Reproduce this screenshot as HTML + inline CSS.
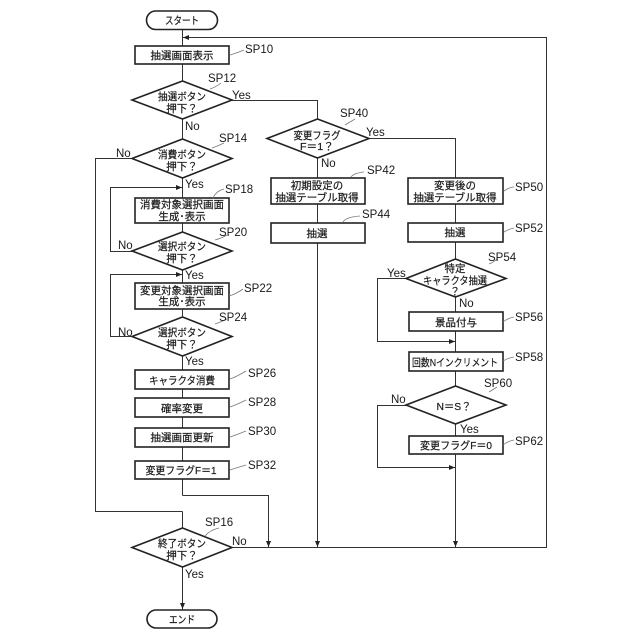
<!DOCTYPE html>
<html><head><meta charset="utf-8"><style>
html,body{margin:0;padding:0;background:#fff}
svg{display:block}
text{font-family:"Liberation Sans","Noto Sans CJK JP",sans-serif;fill:#1a1a1a}
.j{font-size:10.5px;text-anchor:middle;stroke:#1a1a1a;stroke-width:.2}
.s{font-size:11.5px}
.n{fill:none;stroke:#333;stroke-width:1}
.b{fill:#fff;stroke:#222;stroke-width:1.6}
.c{fill:none;stroke:#777;stroke-width:.8}
.a{fill:#222;stroke:none}
</style></head><body>
<svg width="640" height="640" viewBox="0 0 640 640">
<!-- connectors -->
<path class="n" d="M182.500 29V495.500M182.500 511.500V528M182.500 567V610"/>
<path class="n" d="M232 100.500H317.500V119M317.500 158V547"/>
<path class="n" d="M369 138.500H455.500V547"/>
<path class="n" d="M232 547.500H546.500V37.500H182"/>
<path class="n" d="M132 158.500H95.500V511.500H182.500"/>
<path class="n" d="M132 251.500H110.500V187.500H182"/>
<path class="n" d="M132 336.500H110.500V274.500H182"/>
<path class="n" d="M182.500 495.500H268.500V547"/>
<path class="n" d="M406 278.500H377.500V341.500H455"/>
<path class="n" d="M406 405.500H377.500V467.500H455"/>
<!-- arrowheads -->
<path class="a" d="M183 37.500l6-2.500v5z"/>
<path class="a" d="M182 187.500l-6-2.500v5z"/>
<path class="a" d="M182 274.500l-6-2.500v5z"/>
<path class="a" d="M455 341.500l-6-2.500v5z"/>
<path class="a" d="M455 467.500l-6-2.500v5z"/>
<path class="a" d="M268.500 547l-2.500-6h5z"/>
<path class="a" d="M317.500 547l-2.500-6h5z"/>
<path class="a" d="M455.500 547l-2.500-6h5z"/>
<path class="a" d="M182.500 609l-2.500-6h5z"/>
<!-- terminators -->
<rect class="b" x="146.500" y="11" width="71" height="18.500" rx="9.200"/>
<rect class="b" x="147" y="610" width="70" height="18" rx="9"/>
<!-- boxes -->
<rect class="b" x="135" y="46" width="94" height="18"/>
<rect class="b" x="135" y="198" width="94" height="25"/>
<rect class="b" x="135" y="283" width="94" height="26"/>
<rect class="b" x="135" y="370" width="94" height="19"/>
<rect class="b" x="135" y="398" width="94" height="19"/>
<rect class="b" x="135" y="428" width="94" height="19"/>
<rect class="b" x="135" y="461" width="94" height="18"/>
<rect class="b" x="271" y="178" width="94" height="26"/>
<rect class="b" x="271" y="223" width="94" height="20"/>
<rect class="b" x="408" y="178" width="95" height="26"/>
<rect class="b" x="408" y="223" width="95" height="19"/>
<rect class="b" x="409" y="312" width="94" height="19"/>
<rect class="b" x="409" y="352" width="94" height="19"/>
<rect class="b" x="409" y="436" width="94" height="18"/>
<!-- diamonds -->
<path class="b" d="M132 100L182.500 81L232 100L182.500 119Z"/>
<path class="b" d="M132 158.500L182.500 139L232 158.500L182.500 178Z"/>
<path class="b" d="M132 251L182.500 232L232 251L182.500 270Z"/>
<path class="b" d="M132 336.500L182.500 317L232 336.500L182.500 356Z"/>
<path class="b" d="M132 547.500L182.500 528L232 547.500L182.500 567Z"/>
<path class="b" d="M267 138.500L317.500 119L369 138.500L317.500 158Z"/>
<path class="b" d="M406 278.500L455.500 259L506 278.500L455.500 297Z"/>
<path class="b" d="M406 405L455.500 386L506 405L455.500 424Z"/>
<!-- callout lines -->
<path class="c" d="M230 55Q237 53 244 50M210 89Q216 87 221 83M212 148Q218 146 224 143M213 198Q216 191 224 189M215 240Q222 238 227 235M229 296Q236 294 243 289M215 324Q221 322 227 319M230 379Q236 377 246 371M230 407Q236 405 246 400M230 437Q236 435 246 431M230 470Q236 468 246 465M205 536Q210 530 219 528M345 125Q350 122 355 119M351 177Q354 173 364 172M343 222Q346 217 360 216M504 191Q510 187 514 187M504 232Q509 229 514 228M489 264Q494 262 497 259M503 322Q508 318 514 317M503 361Q508 358 514 357M489 392Q494 389 497 387M503 445Q508 441 514 440"/>
<!-- node text -->
<text class="j" x="182" y="24" textLength="34" lengthAdjust="spacingAndGlyphs">スタート</text>
<text class="j" x="182" y="59">抽選画面表示</text>
<text class="j" x="182" y="100" textLength="48" lengthAdjust="spacingAndGlyphs">抽選ボタン</text><text class="j" x="182" y="112">押下？</text>
<text class="j" x="182" y="158" textLength="48" lengthAdjust="spacingAndGlyphs">消費ボタン</text><text class="j" x="182" y="170">押下？</text>
<text class="j" x="182" y="208">消費対象選択画面</text><text class="j" x="182" y="220">生成･表示</text>
<text class="j" x="182" y="250" textLength="48" lengthAdjust="spacingAndGlyphs">選択ボタン</text><text class="j" x="182" y="262">押下？</text>
<text class="j" x="182" y="294">変更対象選択画面</text><text class="j" x="182" y="305">生成･表示</text>
<text class="j" x="182" y="336" textLength="48" lengthAdjust="spacingAndGlyphs">選択ボタン</text><text class="j" x="182" y="348">押下？</text>
<text class="j" x="182" y="384" textLength="66" lengthAdjust="spacingAndGlyphs">キャラクタ消費</text>
<text class="j" x="182" y="412">確率変更</text>
<text class="j" x="182" y="441">抽選画面更新</text>
<text class="j" x="181" y="474" textLength="71" lengthAdjust="spacingAndGlyphs">変更フラグF＝1</text>
<text class="j" x="182" y="547" textLength="48" lengthAdjust="spacingAndGlyphs">終了ボタン</text><text class="j" x="182" y="559">押下？</text>
<text class="j" x="182" y="623" textLength="26" lengthAdjust="spacingAndGlyphs">エンド</text>
<text class="j" x="317" y="139" textLength="47" lengthAdjust="spacingAndGlyphs">変更フラグ</text><text class="j" x="317" y="150" textLength="34" lengthAdjust="spacingAndGlyphs">F＝1？</text>
<text class="j" x="317" y="189">初期設定の</text><text class="j" x="317" y="201">抽選テーブル取得</text>
<text class="j" x="317" y="237">抽選</text>
<text class="j" x="455" y="189">変更後の</text><text class="j" x="455" y="201">抽選テーブル取得</text>
<text class="j" x="455" y="236">抽選</text>
<text class="j" x="455" y="272">特定</text><text class="j" x="455" y="284" textLength="64" lengthAdjust="spacingAndGlyphs">キャラクタ抽選</text><text class="j" x="455" y="295">？</text>
<text class="j" x="456" y="326">景品付与</text>
<text class="j" x="455" y="366" textLength="86" lengthAdjust="spacingAndGlyphs">回数Nインクリメント</text>
<text class="j" x="454" y="410" textLength="35" lengthAdjust="spacingAndGlyphs">N＝S？</text>
<text class="j" x="456" y="449" textLength="72" lengthAdjust="spacingAndGlyphs">変更フラグF＝0</text>
<!-- step labels -->
<text class="s" x="245" y="53">SP10</text>
<text class="s" x="208" y="82">SP12</text>
<text class="s" x="219" y="142">SP14</text>
<text class="s" x="225" y="193">SP18</text>
<text class="s" x="219" y="236">SP20</text>
<text class="s" x="244" y="292">SP22</text>
<text class="s" x="219" y="321">SP24</text>
<text class="s" x="248" y="377">SP26</text>
<text class="s" x="248" y="406">SP28</text>
<text class="s" x="248" y="435">SP30</text>
<text class="s" x="248" y="469">SP32</text>
<text class="s" x="205" y="526">SP16</text>
<text class="s" x="340" y="117">SP40</text>
<text class="s" x="367" y="174">SP42</text>
<text class="s" x="362" y="218">SP44</text>
<text class="s" x="515" y="191">SP50</text>
<text class="s" x="515" y="232">SP52</text>
<text class="s" x="488" y="261">SP54</text>
<text class="s" x="515" y="321">SP56</text>
<text class="s" x="515" y="361">SP58</text>
<text class="s" x="484" y="387">SP60</text>
<text class="s" x="515" y="445">SP62</text>
<!-- branch labels -->
<text class="s" x="232" y="99">Yes</text>
<text class="s" x="185" y="130">No</text>
<text class="s" x="116" y="157">No</text>
<text class="s" x="185" y="188">Yes</text>
<text class="s" x="118" y="249">No</text>
<text class="s" x="185" y="279">Yes</text>
<text class="s" x="118" y="336">No</text>
<text class="s" x="185" y="365">Yes</text>
<text class="s" x="232" y="545">No</text>
<text class="s" x="185" y="578">Yes</text>
<text class="s" x="366" y="136">Yes</text>
<text class="s" x="321" y="167">No</text>
<text class="s" x="387" y="277">Yes</text>
<text class="s" x="459" y="307">No</text>
<text class="s" x="391" y="403">No</text>
<text class="s" x="460" y="433">Yes</text>
</svg>
</body></html>
